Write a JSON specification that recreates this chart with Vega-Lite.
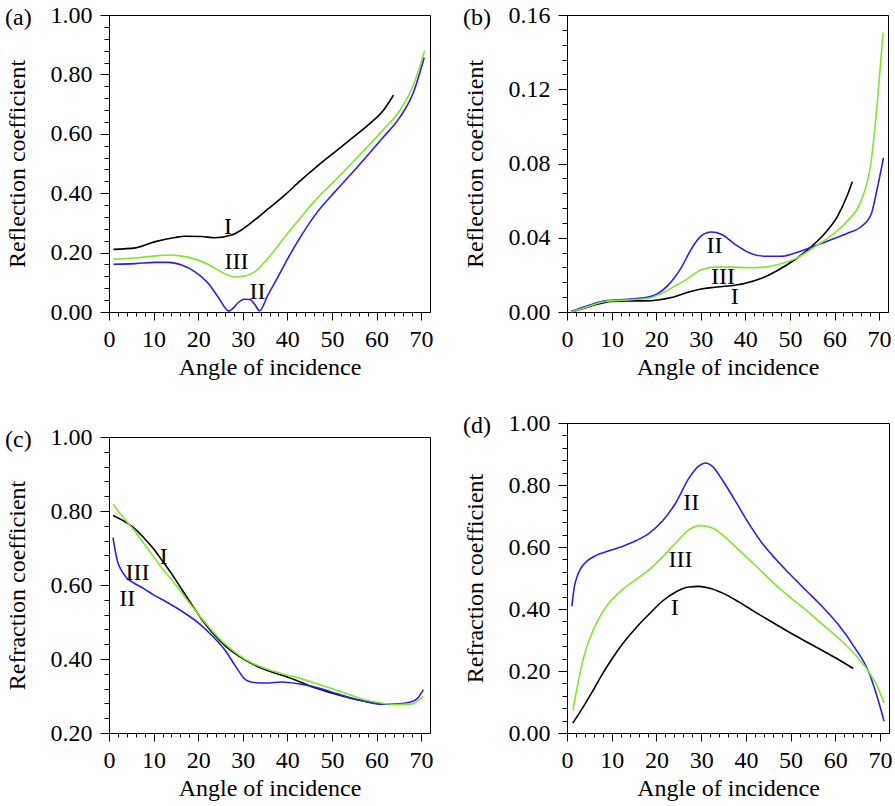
{
"$schema": "https://vega.github.io/schema/vega-lite/v6.json",
"background": "white",
"padding": {"left": 4, "top": 2, "right": 2, "bottom": 2},
"config": {
  "font": "Liberation Serif",
  "view": {"stroke": "black", "strokeWidth": 1},
  "axis": {"labelFont": "Liberation Serif", "titleFont": "Liberation Serif", "labelFontSize": 24, "titleFontSize": 24, "titleFontWeight": "normal", "labelColor": "black", "titleColor": "black", "domainColor": "black", "tickColor": "black", "grid": false},
  "title": {"font": "Liberation Serif", "fontSize": 24, "fontWeight": "normal", "anchor": "start", "frame": "bounds", "offset": -27, "color": "black"},
  "line": {"strokeWidth": 1.6, "interpolate": "monotone"},
  "text": {"font": "Liberation Serif", "fontSize": 24, "color": "black"}
},
"datasets": {
"pa": [
{"curve":"I","angle":1,"value":0.211},{"curve":"I","angle":6,"value":0.216},{"curve":"I","angle":10.4,"value":0.237},{"curve":"I","angle":14.8,"value":0.251},{"curve":"I","angle":17,"value":0.255},{"curve":"I","angle":20.8,"value":0.254},{"curve":"I","angle":23.8,"value":0.25},{"curve":"I","angle":27.5,"value":0.259},{"curve":"I","angle":29.7,"value":0.276},{"curve":"I","angle":32.7,"value":0.31},{"curve":"I","angle":35.6,"value":0.346},{"curve":"I","angle":39.3,"value":0.392},{"curve":"I","angle":43,"value":0.443},{"curve":"I","angle":46.8,"value":0.492},{"curve":"I","angle":50.5,"value":0.537},{"curve":"I","angle":54.2,"value":0.582},{"curve":"I","angle":57.9,"value":0.627},{"curve":"I","angle":61.6,"value":0.68},{"curve":"I","angle":63.8,"value":0.73},
{"curve":"II","angle":1,"value":0.161},{"curve":"II","angle":5.9,"value":0.163},{"curve":"II","angle":10.4,"value":0.167},{"curve":"II","angle":13.4,"value":0.167},{"curve":"II","angle":16.3,"value":0.158},{"curve":"II","angle":19.3,"value":0.135},{"curve":"II","angle":22.3,"value":0.096},{"curve":"II","angle":24.5,"value":0.05},{"curve":"II","angle":26.9,"value":0.003},{"curve":"II","angle":27.8,"value":0.012},{"curve":"II","angle":29,"value":0.032},{"curve":"II","angle":30.4,"value":0.043},{"curve":"II","angle":31.6,"value":0.042},{"curve":"II","angle":32.7,"value":0.025},{"curve":"II","angle":33.8,"value":0.004},{"curve":"II","angle":35.6,"value":0.056},{"curve":"II","angle":37.9,"value":0.118},{"curve":"II","angle":40.1,"value":0.18},{"curve":"II","angle":43,"value":0.254},{"curve":"II","angle":46.8,"value":0.338},{"curve":"II","angle":50.5,"value":0.402},{"curve":"II","angle":54.2,"value":0.463},{"curve":"II","angle":57.9,"value":0.526},{"curve":"II","angle":61.6,"value":0.59},{"curve":"II","angle":65.3,"value":0.657},{"curve":"II","angle":68.3,"value":0.74},{"curve":"II","angle":70.7,"value":0.857},
{"curve":"III","angle":1,"value":0.178},{"curve":"III","angle":5.9,"value":0.182},{"curve":"III","angle":10.4,"value":0.189},{"curve":"III","angle":13.4,"value":0.192},{"curve":"III","angle":16.3,"value":0.188},{"curve":"III","angle":19.3,"value":0.178},{"curve":"III","angle":22.3,"value":0.16},{"curve":"III","angle":25.2,"value":0.135},{"curve":"III","angle":28.2,"value":0.118},{"curve":"III","angle":30.4,"value":0.121},{"curve":"III","angle":32.7,"value":0.135},{"curve":"III","angle":35.6,"value":0.18},{"curve":"III","angle":39.3,"value":0.25},{"curve":"III","angle":43,"value":0.318},{"curve":"III","angle":46.8,"value":0.385},{"curve":"III","angle":50.5,"value":0.44},{"curve":"III","angle":54.2,"value":0.497},{"curve":"III","angle":57.9,"value":0.555},{"curve":"III","angle":61.6,"value":0.615},{"curve":"III","angle":65.3,"value":0.68},{"curve":"III","angle":68.3,"value":0.765},{"curve":"III","angle":70.8,"value":0.88}
],
"pb": [
{"curve":"I","angle":1,"value":0},{"curve":"I","angle":3.3,"value":0.0016},{"curve":"I","angle":6.3,"value":0.0039},{"curve":"I","angle":10,"value":0.0057},{"curve":"I","angle":13.7,"value":0.006},{"curve":"I","angle":17.4,"value":0.006},{"curve":"I","angle":20.4,"value":0.0065},{"curve":"I","angle":23.4,"value":0.0078},{"curve":"I","angle":27.1,"value":0.0106},{"curve":"I","angle":30.1,"value":0.0124},{"curve":"I","angle":33.1,"value":0.0133},{"curve":"I","angle":36.1,"value":0.014},{"curve":"I","angle":39.8,"value":0.0154},{"curve":"I","angle":43.5,"value":0.018},{"curve":"I","angle":47.3,"value":0.0225},{"curve":"I","angle":51,"value":0.028},{"curve":"I","angle":54.7,"value":0.035},{"curve":"I","angle":57.7,"value":0.042},{"curve":"I","angle":60.7,"value":0.0516},{"curve":"I","angle":62.9,"value":0.063},{"curve":"I","angle":64,"value":0.0702},
{"curve":"II","angle":1,"value":0.0004},{"curve":"II","angle":4.8,"value":0.0035},{"curve":"II","angle":8.5,"value":0.006},{"curve":"II","angle":13.7,"value":0.0069},{"curve":"II","angle":18.2,"value":0.008},{"curve":"II","angle":20.4,"value":0.01},{"curve":"II","angle":22.7,"value":0.0145},{"curve":"II","angle":25.7,"value":0.0242},{"curve":"II","angle":27.9,"value":0.034},{"curve":"II","angle":30.1,"value":0.041},{"curve":"II","angle":32.4,"value":0.0431},{"curve":"II","angle":34.6,"value":0.0419},{"curve":"II","angle":37.6,"value":0.0366},{"curve":"II","angle":40.6,"value":0.0322},{"curve":"II","angle":44.3,"value":0.03},{"curve":"II","angle":48,"value":0.03},{"curve":"II","angle":51.7,"value":0.0322},{"curve":"II","angle":55.4,"value":0.0354},{"curve":"II","angle":59.2,"value":0.0389},{"curve":"II","angle":62.9,"value":0.0424},{"curve":"II","angle":65.9,"value":0.0458},{"curve":"II","angle":68.2,"value":0.0525},{"curve":"II","angle":69.6,"value":0.0667},{"curve":"II","angle":71,"value":0.0831},
{"curve":"III","angle":1,"value":0},{"curve":"III","angle":4.8,"value":0.003},{"curve":"III","angle":8.5,"value":0.0057},{"curve":"III","angle":13.7,"value":0.0065},{"curve":"III","angle":18.2,"value":0.0074},{"curve":"III","angle":21.2,"value":0.01},{"curve":"III","angle":24.2,"value":0.014},{"curve":"III","angle":27.1,"value":0.018},{"curve":"III","angle":30.1,"value":0.0228},{"curve":"III","angle":33.1,"value":0.0242},{"curve":"III","angle":36.8,"value":0.0242},{"curve":"III","angle":40.6,"value":0.0239},{"curve":"III","angle":44.3,"value":0.0242},{"curve":"III","angle":48,"value":0.026},{"curve":"III","angle":51.7,"value":0.0292},{"curve":"III","angle":55.4,"value":0.0348},{"curve":"III","angle":59.2,"value":0.041},{"curve":"III","angle":62.9,"value":0.049},{"curve":"III","angle":65.9,"value":0.0596},{"curve":"III","angle":68.2,"value":0.0808},{"curve":"III","angle":69.6,"value":0.1126},{"curve":"III","angle":70.9,"value":0.1506}
],
"pc": [
{"curve":"I","angle":0.9,"value":0.788},{"curve":"I","angle":3.3,"value":0.773},{"curve":"I","angle":5.5,"value":0.755},{"curve":"I","angle":7.7,"value":0.729},{"curve":"I","angle":9.9,"value":0.699},{"curve":"I","angle":12.1,"value":0.663},{"curve":"I","angle":14.4,"value":0.624},{"curve":"I","angle":16.6,"value":0.583},{"curve":"I","angle":18.8,"value":0.543},{"curve":"I","angle":21,"value":0.504},{"curve":"I","angle":23.2,"value":0.471},{"curve":"I","angle":26.2,"value":0.434},{"curve":"I","angle":29.2,"value":0.407},{"curve":"I","angle":32.1,"value":0.387},{"curve":"I","angle":35.1,"value":0.371},{"curve":"I","angle":38.8,"value":0.356},{"curve":"I","angle":42.5,"value":0.34},{"curve":"I","angle":46.2,"value":0.322},{"curve":"I","angle":49.9,"value":0.308},{"curve":"I","angle":53.6,"value":0.296},{"curve":"I","angle":57.3,"value":0.286},{"curve":"I","angle":61,"value":0.279},{"curve":"I","angle":63.2,"value":0.277},
{"curve":"II","angle":0.9,"value":0.728},{"curve":"II","angle":1.4,"value":0.692},{"curve":"II","angle":1.9,"value":0.664},{"curve":"II","angle":2.9,"value":0.637},{"curve":"II","angle":4,"value":0.619},{"curve":"II","angle":5.5,"value":0.606},{"curve":"II","angle":7.7,"value":0.591},{"curve":"II","angle":9.9,"value":0.574},{"curve":"II","angle":12.9,"value":0.554},{"curve":"II","angle":16.6,"value":0.527},{"curve":"II","angle":20.3,"value":0.495},{"curve":"II","angle":23.2,"value":0.462},{"curve":"II","angle":26.2,"value":0.421},{"curve":"II","angle":28.4,"value":0.38},{"curve":"II","angle":30.6,"value":0.344},{"curve":"II","angle":32.1,"value":0.337},{"curve":"II","angle":35.1,"value":0.335},{"curve":"II","angle":38.8,"value":0.338},{"curve":"II","angle":42.5,"value":0.333},{"curve":"II","angle":46.2,"value":0.324},{"curve":"II","angle":49.9,"value":0.311},{"curve":"II","angle":53.6,"value":0.297},{"curve":"II","angle":57.3,"value":0.286},{"curve":"II","angle":61,"value":0.278},{"curve":"II","angle":64.7,"value":0.279},{"curve":"II","angle":67.7,"value":0.284},{"curve":"II","angle":69.3,"value":0.295},{"curve":"II","angle":70.5,"value":0.317},
{"curve":"III","angle":0.9,"value":0.818},{"curve":"III","angle":3.3,"value":0.781},{"curve":"III","angle":5.5,"value":0.75},{"curve":"III","angle":7.7,"value":0.714},{"curve":"III","angle":9.9,"value":0.678},{"curve":"III","angle":12.1,"value":0.642},{"curve":"III","angle":14.4,"value":0.609},{"curve":"III","angle":16.6,"value":0.574},{"curve":"III","angle":18.8,"value":0.54},{"curve":"III","angle":21,"value":0.507},{"curve":"III","angle":23.2,"value":0.475},{"curve":"III","angle":26.2,"value":0.439},{"curve":"III","angle":29.2,"value":0.41},{"curve":"III","angle":32.1,"value":0.389},{"curve":"III","angle":35.1,"value":0.374},{"curve":"III","angle":38.8,"value":0.36},{"curve":"III","angle":42.5,"value":0.349},{"curve":"III","angle":46.2,"value":0.335},{"curve":"III","angle":49.9,"value":0.32},{"curve":"III","angle":53.6,"value":0.305},{"curve":"III","angle":57.3,"value":0.29},{"curve":"III","angle":61,"value":0.281},{"curve":"III","angle":64.7,"value":0.277},{"curve":"III","angle":67.7,"value":0.278},{"curve":"III","angle":70.5,"value":0.299}
],
"pd": [
{"curve":"I","angle":1.3,"value":0.032},{"curve":"I","angle":3.5,"value":0.081},{"curve":"I","angle":5.7,"value":0.134},{"curve":"I","angle":7.9,"value":0.19},{"curve":"I","angle":10.2,"value":0.242},{"curve":"I","angle":12.4,"value":0.287},{"curve":"I","angle":15.4,"value":0.339},{"curve":"I","angle":18.4,"value":0.384},{"curve":"I","angle":21.3,"value":0.425},{"curve":"I","angle":24.3,"value":0.455},{"curve":"I","angle":27.3,"value":0.471},{"curve":"I","angle":29.5,"value":0.473},{"curve":"I","angle":31.7,"value":0.468},{"curve":"I","angle":34.7,"value":0.452},{"curve":"I","angle":38.4,"value":0.423},{"curve":"I","angle":42.1,"value":0.39},{"curve":"I","angle":45.8,"value":0.358},{"curve":"I","angle":49.6,"value":0.326},{"curve":"I","angle":53.3,"value":0.296},{"curve":"I","angle":57,"value":0.267},{"curve":"I","angle":60.7,"value":0.237},{"curve":"I","angle":64,"value":0.208},
{"curve":"II","angle":1.1,"value":0.409},{"curve":"II","angle":1.6,"value":0.468},{"curve":"II","angle":2.2,"value":0.502},{"curve":"II","angle":3.1,"value":0.532},{"curve":"II","angle":4.6,"value":0.556},{"curve":"II","angle":6.5,"value":0.573},{"curve":"II","angle":9.4,"value":0.588},{"curve":"II","angle":12.4,"value":0.602},{"curve":"II","angle":15.4,"value":0.62},{"curve":"II","angle":18.4,"value":0.645},{"curve":"II","angle":21.3,"value":0.683},{"curve":"II","angle":24.3,"value":0.742},{"curve":"II","angle":27.3,"value":0.823},{"curve":"II","angle":29.5,"value":0.862},{"curve":"II","angle":31,"value":0.871},{"curve":"II","angle":32.5,"value":0.86},{"curve":"II","angle":34.7,"value":0.817},{"curve":"II","angle":37.7,"value":0.747},{"curve":"II","angle":40.6,"value":0.677},{"curve":"II","angle":43.6,"value":0.613},{"curve":"II","angle":46.6,"value":0.562},{"curve":"II","angle":49.6,"value":0.516},{"curve":"II","angle":53.3,"value":0.462},{"curve":"II","angle":57,"value":0.409},{"curve":"II","angle":60.7,"value":0.349},{"curve":"II","angle":64.4,"value":0.274},{"curve":"II","angle":67.4,"value":0.199},{"curve":"II","angle":69.2,"value":0.124},{"curve":"II","angle":70.9,"value":0.038},
{"curve":"III","angle":1.3,"value":0.072},{"curve":"III","angle":2.4,"value":0.156},{"curve":"III","angle":3.5,"value":0.231},{"curve":"III","angle":5,"value":0.301},{"curve":"III","angle":7.2,"value":0.371},{"curve":"III","angle":9.4,"value":0.419},{"curve":"III","angle":12.4,"value":0.462},{"curve":"III","angle":15.4,"value":0.495},{"curve":"III","angle":18.4,"value":0.527},{"curve":"III","angle":21.3,"value":0.567},{"curve":"III","angle":24.3,"value":0.613},{"curve":"III","angle":27.3,"value":0.656},{"curve":"III","angle":29.9,"value":0.669},{"curve":"III","angle":32.5,"value":0.661},{"curve":"III","angle":34.7,"value":0.64},{"curve":"III","angle":38.4,"value":0.591},{"curve":"III","angle":42.1,"value":0.541},{"curve":"III","angle":45.8,"value":0.489},{"curve":"III","angle":49.6,"value":0.441},{"curve":"III","angle":53.3,"value":0.398},{"curve":"III","angle":57,"value":0.352},{"curve":"III","angle":60.7,"value":0.306},{"curve":"III","angle":64.4,"value":0.253},{"curve":"III","angle":67.4,"value":0.199},{"curve":"III","angle":69.2,"value":0.156},{"curve":"III","angle":70.9,"value":0.097}
],
"labels": [
{"panel":"a","label":"I","angle":26.7,"value":0.287},{"panel":"a","label":"III","angle":28.6,"value":0.169},{"panel":"a","label":"II","angle":33.3,"value":0.068},
{"panel":"b","label":"II","angle":33.1,"value":0.0357},{"panel":"b","label":"III","angle":35,"value":0.0189},{"panel":"b","label":"I","angle":37.6,"value":0.0083},
{"panel":"c","label":"I","angle":12.3,"value":0.675},{"panel":"c","label":"III","angle":6.4,"value":0.633},{"panel":"c","label":"II","angle":4.1,"value":0.561},
{"panel":"d","label":"II","angle":27.8,"value":0.742},{"panel":"d","label":"III","angle":25.4,"value":0.559},{"panel":"d","label":"I","angle":24.1,"value":0.403}
]
},
"spacing": 28,
"hconcat": [
{"vconcat": [
{"width": 321, "height": 297, "title": {"text": "(a)"},
 "layer": [
  {"data": {"name": "pa"}, "mark": {"type": "line"}, "encoding": {
    "x": {"field": "angle", "type": "quantitative", "scale": {"domain": [0, 72], "nice": false}, "axis": {"title": "Angle of incidence", "tickCount": 100, "titlePadding": 4, "labelPadding": 7, "labelOverlap": false, "labelFlush": false, "values": [0,2,4,6,8,10,12,14,16,18,20,22,24,26,28,30,32,34,36,38,40,42,44,46,48,50,52,54,56,58,60,62,64,66,68,70], "labelExpr": "datum.value % 10 === 0 ? datum.label : ''", "tickSize": {"condition": {"test": "datum.value % 10 === 0", "value": 8}, "value": 4}}},
    "y": {"field": "value", "type": "quantitative", "scale": {"domain": [0, 1], "nice": false}, "axis": {"title": "Reflection coefficient", "tickCount": 100, "titlePadding": 21, "labelPadding": 8, "labelOverlap": false, "labelFlush": false, "values": [0,0.04,0.08,0.12,0.16,0.2,0.24,0.28,0.32,0.36,0.4,0.44,0.48,0.52,0.56,0.6,0.64,0.68,0.72,0.76,0.8,0.84,0.88,0.92,0.96,1], "labelExpr": "round(datum.value*100) % 20 === 0 ? format(datum.value, '.2f') : ''", "tickSize": {"condition": {"test": "round(datum.value*100) % 20 === 0", "value": 9}, "value": 5}}},
    "color": {"field": "curve", "type": "nominal", "scale": {"domain": ["I","II","III"], "range": ["#000000","#2e1ee8","#80e632"]}, "legend": null}}},
  {"data": {"name": "labels"}, "transform": [{"filter": "datum.panel === 'a'"}], "mark": {"type": "text"}, "encoding": {
    "x": {"field": "angle", "type": "quantitative"}, "y": {"field": "value", "type": "quantitative"}, "text": {"field": "label"}}}
 ]},
{"width": 321, "height": 296, "title": {"text": "(c)"},
 "layer": [
  {"data": {"name": "pc"}, "mark": {"type": "line"}, "encoding": {
    "x": {"field": "angle", "type": "quantitative", "scale": {"domain": [0, 72], "nice": false}, "axis": {"title": "Angle of incidence", "tickCount": 100, "titlePadding": 4, "labelPadding": 7, "labelOverlap": false, "labelFlush": false, "values": [0,2,4,6,8,10,12,14,16,18,20,22,24,26,28,30,32,34,36,38,40,42,44,46,48,50,52,54,56,58,60,62,64,66,68,70], "labelExpr": "datum.value % 10 === 0 ? datum.label : ''", "tickSize": {"condition": {"test": "datum.value % 10 === 0", "value": 8}, "value": 4}}},
    "y": {"field": "value", "type": "quantitative", "scale": {"domain": [0.2, 1], "nice": false}, "axis": {"title": "Refraction coefficient", "tickCount": 100, "titlePadding": 21, "labelPadding": 8, "labelOverlap": false, "labelFlush": false, "values": [0.2,0.24,0.28,0.32,0.36,0.4,0.44,0.48,0.52,0.56,0.6,0.64,0.68,0.72,0.76,0.8,0.84,0.88,0.92,0.96,1], "labelExpr": "round(datum.value*100) % 20 === 0 ? format(datum.value, '.2f') : ''", "tickSize": {"condition": {"test": "round(datum.value*100) % 20 === 0", "value": 9}, "value": 5}}},
    "color": {"field": "curve", "type": "nominal", "scale": {"domain": ["I","II","III"], "range": ["#000000","#2e1ee8","#80e632"]}, "legend": null}}},
  {"data": {"name": "labels"}, "transform": [{"filter": "datum.panel === 'c'"}], "mark": {"type": "text"}, "encoding": {
    "x": {"field": "angle", "type": "quantitative"}, "y": {"field": "value", "type": "quantitative"}, "text": {"field": "label"}}}
 ]}
], "spacing": 44},
{"vconcat": [
{"width": 321, "height": 297, "title": {"text": "(b)"},
 "layer": [
  {"data": {"name": "pb"}, "mark": {"type": "line"}, "encoding": {
    "x": {"field": "angle", "type": "quantitative", "scale": {"domain": [0, 72], "nice": false}, "axis": {"title": "Angle of incidence", "tickCount": 100, "titlePadding": 4, "labelPadding": 7, "labelOverlap": false, "labelFlush": false, "values": [0,2,4,6,8,10,12,14,16,18,20,22,24,26,28,30,32,34,36,38,40,42,44,46,48,50,52,54,56,58,60,62,64,66,68,70], "labelExpr": "datum.value % 10 === 0 ? datum.label : ''", "tickSize": {"condition": {"test": "datum.value % 10 === 0", "value": 8}, "value": 4}}},
    "y": {"field": "value", "type": "quantitative", "scale": {"domain": [0, 0.16], "nice": false}, "axis": {"title": "Reflection coefficient", "tickCount": 100, "titlePadding": 21, "labelPadding": 8, "labelOverlap": false, "labelFlush": false, "values": [0,0.008,0.016,0.024,0.032,0.04,0.048,0.056,0.064,0.072,0.08,0.088,0.096,0.104,0.112,0.12,0.128,0.136,0.144,0.152,0.16], "labelExpr": "round(datum.value*1000) % 40 === 0 ? format(datum.value, '.2f') : ''", "tickSize": {"condition": {"test": "round(datum.value*1000) % 40 === 0", "value": 9}, "value": 5}}},
    "color": {"field": "curve", "type": "nominal", "scale": {"domain": ["I","II","III"], "range": ["#000000","#2e1ee8","#80e632"]}, "legend": null}}},
  {"data": {"name": "labels"}, "transform": [{"filter": "datum.panel === 'b'"}], "mark": {"type": "text"}, "encoding": {
    "x": {"field": "angle", "type": "quantitative"}, "y": {"field": "value", "type": "quantitative"}, "text": {"field": "label"}}}
 ]},
{"width": 322, "height": 310, "title": {"text": "(d)"},
 "layer": [
  {"data": {"name": "pd"}, "mark": {"type": "line"}, "encoding": {
    "x": {"field": "angle", "type": "quantitative", "scale": {"domain": [0, 72], "nice": false}, "axis": {"title": "Angle of incidence", "tickCount": 100, "titlePadding": 4, "labelPadding": 7, "labelOverlap": false, "labelFlush": false, "values": [0,2,4,6,8,10,12,14,16,18,20,22,24,26,28,30,32,34,36,38,40,42,44,46,48,50,52,54,56,58,60,62,64,66,68,70], "labelExpr": "datum.value % 10 === 0 ? datum.label : ''", "tickSize": {"condition": {"test": "datum.value % 10 === 0", "value": 8}, "value": 4}}},
    "y": {"field": "value", "type": "quantitative", "scale": {"domain": [0, 1], "nice": false}, "axis": {"title": "Refraction coefficient", "tickCount": 100, "titlePadding": 21, "labelPadding": 8, "labelOverlap": false, "labelFlush": false, "values": [0,0.04,0.08,0.12,0.16,0.2,0.24,0.28,0.32,0.36,0.4,0.44,0.48,0.52,0.56,0.6,0.64,0.68,0.72,0.76,0.8,0.84,0.88,0.92,0.96,1], "labelExpr": "round(datum.value*100) % 20 === 0 ? format(datum.value, '.2f') : ''", "tickSize": {"condition": {"test": "round(datum.value*100) % 20 === 0", "value": 9}, "value": 5}}},
    "color": {"field": "curve", "type": "nominal", "scale": {"domain": ["I","II","III"], "range": ["#000000","#2e1ee8","#80e632"]}, "legend": null}}},
  {"data": {"name": "labels"}, "transform": [{"filter": "datum.panel === 'd'"}], "mark": {"type": "text"}, "encoding": {
    "x": {"field": "angle", "type": "quantitative"}, "y": {"field": "value", "type": "quantitative"}, "text": {"field": "label"}}}
 ]}
], "spacing": 30}
]
}
